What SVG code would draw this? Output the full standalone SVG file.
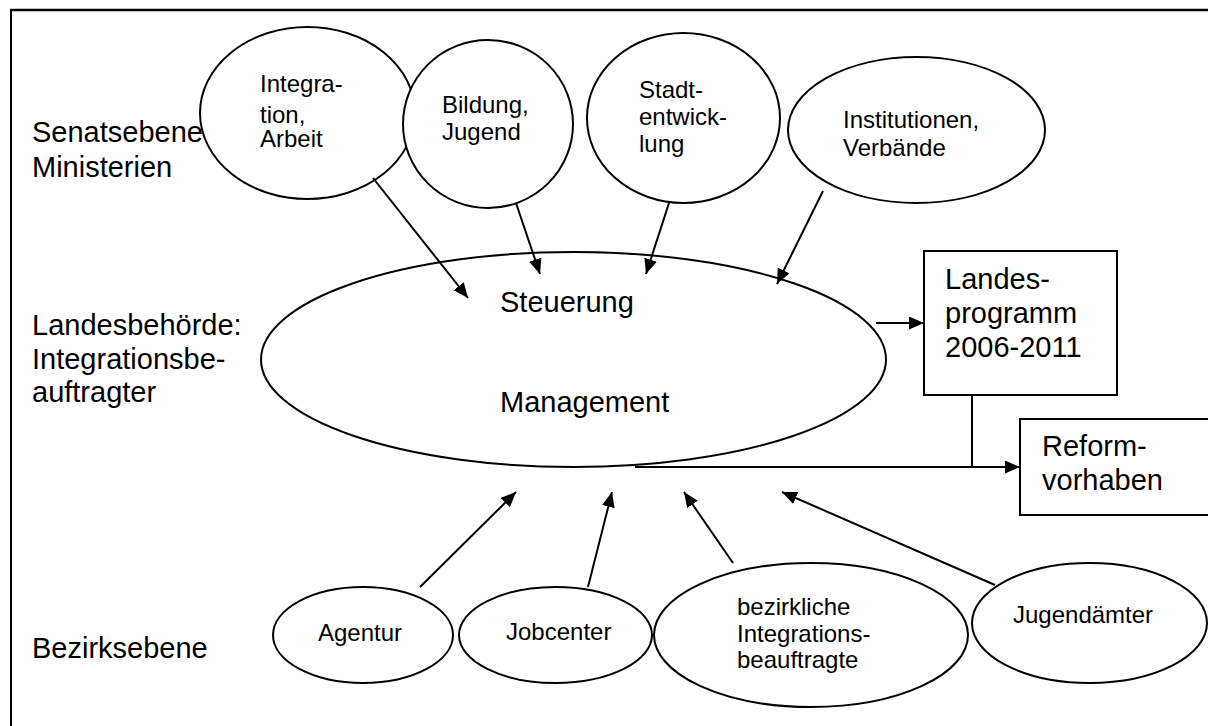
<svg xmlns="http://www.w3.org/2000/svg" width="1208" height="726" viewBox="0 0 1208 726">
<defs>
<marker id="ah" markerUnits="userSpaceOnUse" markerWidth="16" markerHeight="14" refX="15" refY="6.5" orient="auto">
<path d="M0,0 L15,6.5 L0,13 z" fill="#000"/>
</marker>
<style>
.sh{fill:#fff;stroke:#000;stroke-width:2}
.t{font-family:"Liberation Sans",Arial,sans-serif;fill:#000}
.b{font-size:29px}
.s{font-size:24px}
.c{fill:none;stroke:#000;stroke-width:2}
.a{marker-end:url(#ah)}
</style>
</defs>
<rect width="1208" height="726" fill="#fff"/>
<g id="frame">
<line x1="10" y1="10" x2="1208" y2="10" stroke="#000" stroke-width="2.5"/>
<line x1="11" y1="10" x2="11" y2="726" stroke="#000" stroke-width="2"/>
</g>
<g id="levels" class="t b">
<text x="32" y="142">Senatsebene</text>
<text x="32" y="177">Ministerien</text>
<text x="32" y="335">Landesbehörde:</text>
<text x="32" y="369">Integrationsbe-</text>
<text x="32" y="402">auftragter</text>
<text x="32" y="658">Bezirksebene</text>
</g>
<g id="n-integration">
<ellipse class="sh" cx="307.5" cy="113" rx="107.5" ry="86"/>
<text class="t s" x="260" y="92">Integra-</text>
<text class="t s" x="260" y="123">tion,</text>
<text class="t s" x="260" y="147">Arbeit</text>
</g>
<g id="n-bildung">
<ellipse class="sh" cx="488" cy="124" rx="85" ry="84"/>
<text class="t s" x="442" y="113">Bildung,</text>
<text class="t s" x="442" y="140">Jugend</text>
</g>
<g id="n-stadt">
<ellipse class="sh" cx="683.5" cy="118" rx="96.5" ry="85"/>
<text class="t s" x="639" y="98">Stadt-</text>
<text class="t s" x="639" y="125">entwick-</text>
<text class="t s" x="639" y="152">lung</text>
</g>
<g id="n-institutionen">
<ellipse class="sh" cx="916.5" cy="130" rx="128.5" ry="73"/>
<text class="t s" x="843" y="128">Institutionen,</text>
<text class="t s" x="843" y="156">Verbände</text>
</g>
<g id="n-steuerung">
<ellipse class="sh" cx="573.5" cy="359.5" rx="312.5" ry="107.5"/>
<text class="t b" x="500" y="312">Steuerung</text>
<text class="t b" x="500" y="412">Management</text>
</g>
<g id="n-landesprogramm">
<rect class="sh" x="924" y="251" width="193" height="144"/>
<text class="t b" x="945" y="289">Landes-</text>
<text class="t b" x="945" y="323">programm</text>
<text class="t b" x="945" y="357">2006-2011</text>
</g>
<g id="n-reform">
<rect class="sh" x="1020" y="419" width="200" height="96"/>
<text class="t b" x="1042" y="456">Reform-</text>
<text class="t b" x="1042" y="490">vorhaben</text>
</g>
<g id="n-agentur">
<ellipse class="sh" cx="363" cy="635" rx="90" ry="48"/>
<text class="t s" x="318" y="641">Agentur</text>
</g>
<g id="n-jobcenter">
<ellipse class="sh" cx="555.5" cy="635" rx="96.5" ry="48"/>
<text class="t s" x="506" y="640">Jobcenter</text>
</g>
<g id="n-bezirkliche">
<ellipse class="sh" cx="811" cy="635" rx="157" ry="72"/>
<text class="t s" x="737" y="615">bezirkliche</text>
<text class="t s" x="737" y="642">Integrations-</text>
<text class="t s" x="737" y="668">beauftragte</text>
</g>
<g id="n-jugendaemter">
<ellipse class="sh" cx="1089.5" cy="623" rx="117.5" ry="60"/>
<text class="t s" x="1013" y="623">Jugendämter</text>
</g>
<g id="connectors">
<line class="c a" x1="373" y1="178" x2="468" y2="298"/>
<line class="c a" x1="516" y1="203" x2="540" y2="274"/>
<line class="c a" x1="669" y1="203" x2="646" y2="274"/>
<line class="c a" x1="823" y1="191" x2="777" y2="284"/>
<line class="c a" x1="876" y1="323" x2="924" y2="323"/>
<line class="c" x1="972" y1="395" x2="972" y2="467"/>
<line class="c a" x1="635" y1="467" x2="1020" y2="467"/>
<line class="c a" x1="420" y1="587" x2="516" y2="492"/>
<line class="c a" x1="588" y1="587" x2="612" y2="492"/>
<line class="c a" x1="733" y1="563" x2="684" y2="492"/>
<line class="c a" x1="995" y1="585" x2="782" y2="492"/>
</g>
</svg>
